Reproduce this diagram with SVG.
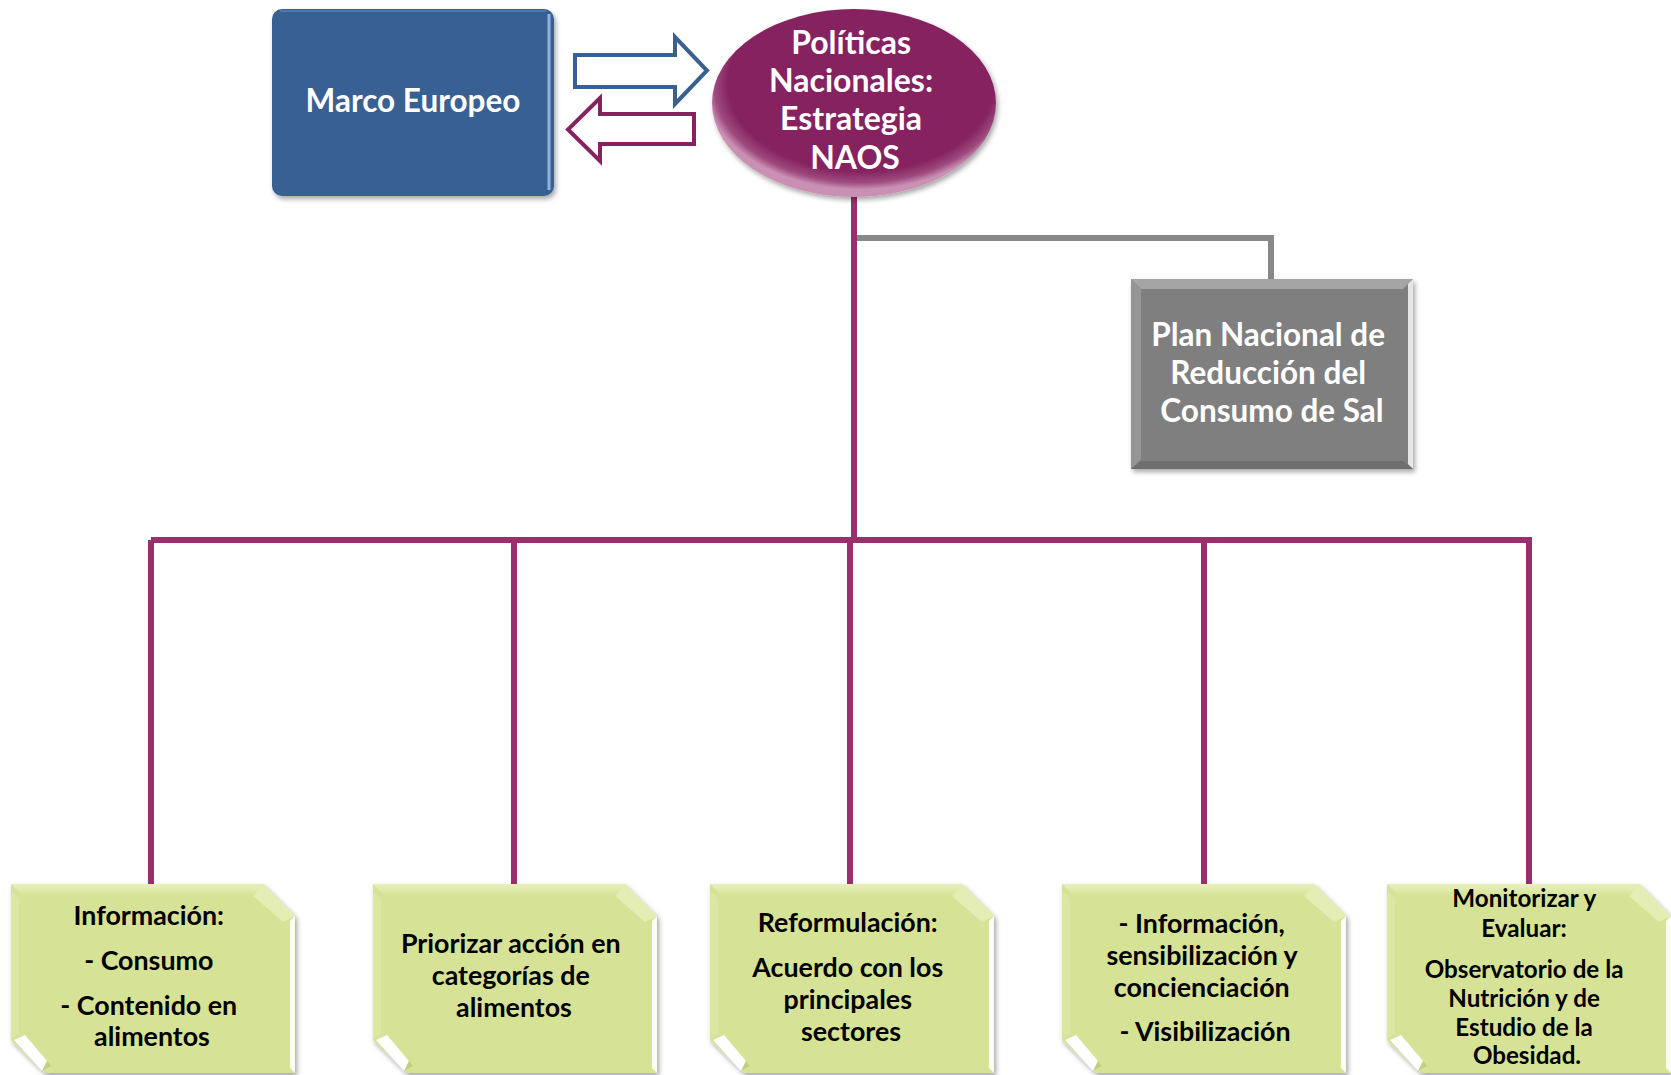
<svg xmlns="http://www.w3.org/2000/svg" width="1671" height="1075" viewBox="0 0 1671 1075">
  <defs>
    <style>
      .wt { font-family: Lato, "Liberation Sans", sans-serif; font-weight: bold; fill: #FFFFFF; text-anchor: middle; }
      .bt { font-family: Lato, "Liberation Sans", sans-serif; font-weight: bold; fill: #000000; text-anchor: middle; font-size: 26.8px; }
      .bt5 { font-family: Lato, "Liberation Sans", sans-serif; font-weight: bold; fill: #000000; text-anchor: middle; font-size: 24.2px; }
      .pline { stroke: #98306E; stroke-width: 6; fill: none; }
      .gline { stroke: #888888; stroke-width: 6; fill: none; }
      .gfill { fill: #D6E396; }
    </style>
    <filter id="shadow" x="-10%" y="-10%" width="125%" height="125%">
      <feDropShadow dx="2" dy="3" stdDeviation="2.5" flood-color="#000000" flood-opacity="0.35"/>
    </filter>
    <radialGradient id="ellG" cx="52%" cy="42%" r="54%" fx="56%" fy="22%">
      <stop offset="0" stop-color="#85235F"/>
      <stop offset="0.87" stop-color="#85235F"/>
      <stop offset="0.95" stop-color="#9E4A7E"/>
      <stop offset="1" stop-color="#C990B4"/>
    </radialGradient>
    <linearGradient id="greenTop" x1="0" y1="0" x2="0" y2="1">
      <stop offset="0" stop-color="#EEF4C8"/>
      <stop offset="1" stop-color="#D6E396"/>
    </linearGradient>
    <path id="gshape" d="M0,0 H252 L284,32 V189 H34 L0,156 Z"/>
    <g id="gbox">
      <use href="#gshape" class="gfill" filter="url(#shadow)"/>
      <path d="M0,0 H252 L242,12 H12 Z" fill="url(#greenTop)" opacity="0.8"/>
      <path d="M252,0 L284,32 L272,38 L242,12 Z" fill="#E4EDB4"/>
      <path d="M284,32 V189 L279,184 V37 Z" fill="#FFFFFF" opacity="0.9"/>
      <path d="M0,156 L0,8 L8,14 L8,150 Z" fill="#DDE8A8" opacity="0.7"/>
      <path d="M3,156 L14,151 L36,177 L31,187 Z" fill="#FFFFFF"/>
      <path d="M31,187 L36,177 L40,182 Z" fill="#B9C47A" opacity="0.7"/>
    </g>
  </defs>

  <rect width="1671" height="1075" fill="#FFFFFF"/>

  <g id="connectors">
    <line class="pline" x1="854" y1="195" x2="854" y2="540"/>
    <path class="gline" d="M857,238 H1271 V280"/>
    <path class="pline" d="M151,540 H1529"/>
    <line class="pline" x1="151" y1="540" x2="151" y2="885"/>
    <line class="pline" x1="514" y1="540" x2="514" y2="885"/>
    <line class="pline" x1="850" y1="540" x2="850" y2="885"/>
    <line class="pline" x1="1204" y1="540" x2="1204" y2="885"/>
    <line class="pline" x1="1529" y1="537" x2="1529" y2="885"/>
    <polygon points="575,55 675,55 675,37 707,70.5 675,104 675,87 575,87" fill="#FFFFFF" stroke="#3A6090" stroke-width="4" stroke-linejoin="miter"/>
    <polygon points="694,114 600,114 600,98 568,129.5 600,161 600,144 694,144" fill="#FFFFFF" stroke="#85235F" stroke-width="4" stroke-linejoin="miter"/>
  </g>

  <g id="marco">
    <rect x="272" y="9" width="282" height="187" rx="10" fill="#376092" filter="url(#shadow)"/>
    <path d="M549,14 V190" stroke="#9DC0EC" stroke-width="3" opacity="0.85"/>
    <path d="M280,11 H546" stroke="#5A82B4" stroke-width="2" opacity="0.7"/>
    <text class="wt" x="413" y="112" font-size="31.5">Marco Europeo</text>
  </g>

  <g id="politicas">
    <ellipse cx="854" cy="103" rx="142" ry="94" fill="url(#ellG)" filter="url(#shadow)"/>
    <text class="wt" font-size="32">
      <tspan x="855" y="54">Políticas</tspan>
      <tspan x="855" y="92">Nacionales:</tspan>
      <tspan x="855" y="130">Estrategia</tspan>
      <tspan x="855" y="169">NAOS</tspan>
    </text>
  </g>

  <g id="plan">
    <rect x="1131" y="279" width="282" height="190" fill="#7F7F7F" filter="url(#shadow)"/>
    <polygon points="1131,279 1413,279 1403,289 1141,289" fill="#A5A5A5"/>
    <polygon points="1131,279 1141,289 1141,459 1131,469" fill="#959595"/>
    <polygon points="1413,279 1413,469 1408,464 1408,284" fill="#E6E6E6"/>
    <polygon points="1131,469 1413,469 1403,461 1141,461" fill="#6E6E6E"/>
    <text class="wt" font-size="31.5">
      <tspan x="1272" y="346">Plan Nacional de</tspan>
      <tspan x="1272" y="384">Reducción del</tspan>
      <tspan x="1272" y="422">Consumo de Sal</tspan>
    </text>
  </g>

  <g id="informacion">
    <use href="#gbox" transform="translate(11,884)"/>
    <text class="bt">
      <tspan x="152" y="925">Información:</tspan>
      <tspan x="152" y="970">- Consumo</tspan>
      <tspan x="152" y="1015">- Contenido en</tspan>
      <tspan x="152" y="1046">alimentos</tspan>
    </text>
  </g>

  <g id="priorizar">
    <use href="#gbox" transform="translate(373,884)"/>
    <text class="bt">
      <tspan x="514" y="953">Priorizar acción en</tspan>
      <tspan x="514" y="985">categorías de</tspan>
      <tspan x="514" y="1017">alimentos</tspan>
    </text>
  </g>

  <g id="reformulacion">
    <use href="#gbox" transform="translate(710,884)"/>
    <text class="bt">
      <tspan x="851" y="932">Reformulación:</tspan>
      <tspan x="851" y="977">Acuerdo con los</tspan>
      <tspan x="851" y="1009">principales</tspan>
      <tspan x="851" y="1041">sectores</tspan>
    </text>
  </g>

  <g id="sensibilizacion">
    <use href="#gbox" transform="translate(1062,884)"/>
    <text class="bt">
      <tspan x="1205" y="933">- Información,</tspan>
      <tspan x="1205" y="965">sensibilización y</tspan>
      <tspan x="1205" y="997">concienciación</tspan>
      <tspan x="1205" y="1041">- Visibilización</tspan>
    </text>
  </g>

  <g id="monitorizar">
    <use href="#gbox" transform="translate(1387,884)"/>
    <text class="bt5">
      <tspan x="1527" y="907">Monitorizar y</tspan>
      <tspan x="1527" y="937">Evaluar:</tspan>
      <tspan x="1527" y="978">Observatorio de la</tspan>
      <tspan x="1527" y="1007">Nutrición y de</tspan>
      <tspan x="1527" y="1036">Estudio de la</tspan>
      <tspan x="1527" y="1064">Obesidad.</tspan>
    </text>
  </g>
</svg>
